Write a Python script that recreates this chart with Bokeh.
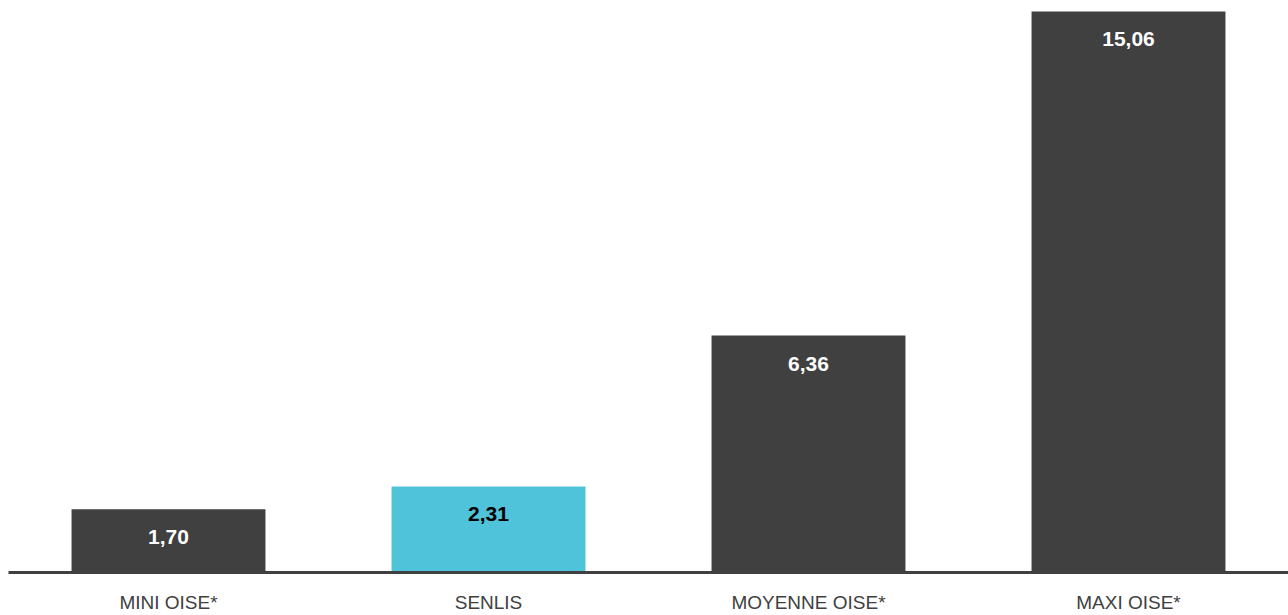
from bokeh.plotting import figure
from bokeh.models import ColumnDataSource, FactorRange, Range1d, LabelSet
from bokeh.core.properties import value
from bokeh.embed import file_html
from bokeh.resources import INLINE

categories = ["MINI OISE*", "SENLIS", "MOYENNE OISE*", "MAXI OISE*"]
values = [1.70, 2.31, 6.36, 15.06]
labels = ["1,70", "2,31", "6,36", "15,06"]
colors = ["#404040", "#4fc3d9", "#404040", "#404040"]
label_colors = ["#ffffff", "#000000", "#ffffff", "#ffffff"]

FONT = "Liberation Sans"

src = ColumnDataSource(dict(cat=categories, val=values, lab=labels,
                            col=colors, lcol=label_colors))

p = figure(x_range=FactorRange(*categories, range_padding=0),
           y_range=Range1d(0, 15.14),
           width=1288, height=615, output_backend="svg", toolbar_location=None,
           min_border_left=8, min_border_right=0, min_border_top=8, min_border_bottom=42)

p.vbar(x="cat", top="val", width=0.606, fill_color="col", line_color=None, source=src)

p.add_layout(LabelSet(x="cat", y="val", text="lab", source=src, y_offset=-28,
                      text_align="center", text_baseline="middle",
                      text_color="lcol", text_font=value(FONT),
                      text_font_style="bold", text_font_size="21px"))

p.outline_line_color = None
p.xgrid.visible = False
p.ygrid.visible = False
p.yaxis.visible = False
p.xaxis.axis_line_color = "#404040"
p.xaxis.axis_line_width = 3
p.xaxis.major_tick_line_color = None
p.xaxis.minor_tick_line_color = None
p.xaxis.major_tick_out = 0
p.xaxis.major_tick_in = 0
p.xaxis.major_label_text_font = FONT
p.xaxis.major_label_text_font_size = "19px"
p.xaxis.major_label_text_color = "#404040"
p.xaxis.major_label_standoff = 19
p.background_fill_color = "white"
p.border_fill_color = "white"

open("out.html", "w").write(file_html(p, INLINE))
